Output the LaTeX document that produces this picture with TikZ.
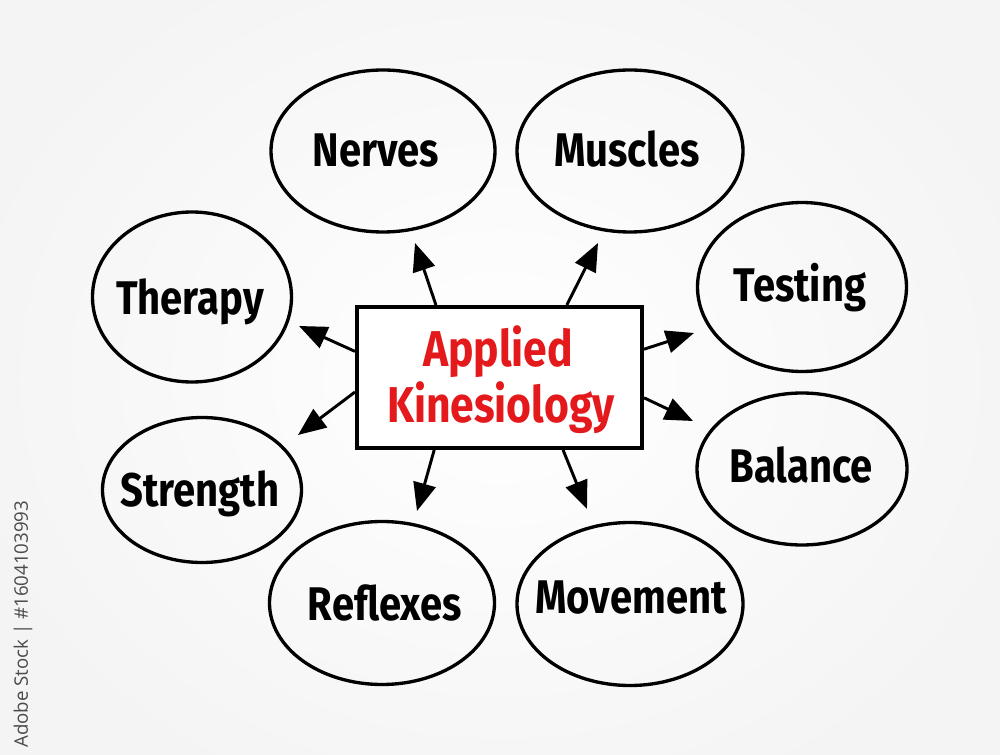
\documentclass[tikz,border=0pt]{standalone}
\usepackage{fontspec}
\setmainfont{Fira Sans}
\newfontfamily\wmfont{Open Sans}
\usetikzlibrary{shapes.geometric,arrows.meta,calc}
\definecolor{kred}{HTML}{E3191C}
\definecolor{wmgray}{HTML}{4A4A4A}
\newcommand{\tall}[1]{\scalebox{1}[1.18]{#1}}
\begin{document}
\begin{tikzpicture}[x=0.75pt,y=-0.75pt,
  bubble/.style={ellipse, draw=black, line width=2.5pt, inner sep=0pt},
  lbl/.style={anchor=base, inner sep=0pt, text=black, font=\fontsize{30}{36}\selectfont\bfseries},
  ttl/.style={anchor=base, inner sep=0pt, text=kred, font=\fontsize{32}{36}\selectfont\bfseries},
  centre/.style={rectangle, draw=black, line width=3pt, fill=white, inner sep=0pt},
  conn/.style={line width=2.2pt, -{Triangle[length=21pt,width=17pt]}},
  wm/.style={rotate=90, anchor=west, inner sep=0pt, text=wmgray, font=\wmfont\fontsize{14}{16}\selectfont}
]
\useasboundingbox (0,0) rectangle (1000,755);
\fill[gray!9] (0,0) rectangle (1000,755);
\shade[inner color=white, outer color=gray!9] (-80,-110) rectangle (1080,865);

% centre box
\node[centre, minimum width=213.75pt, minimum height=105.75pt] (box) at (499.5,377.5) {};
\node[ttl] (t1) at (498,367) {\tall{Applied}};
\node[ttl] (t2) at (501,423) {\tall{Kinesiology}};

% bubbles
\node[bubble, minimum width=168pt,   minimum height=121.5pt]  (nerves)   at (383,151) {};
\node[bubble, minimum width=169.5pt, minimum height=121.5pt]  (muscles)  at (630,151) {};
\node[bubble, minimum width=156.75pt,minimum height=126.75pt] (testing)  at (802,287) {};
\node[bubble, minimum width=157.5pt, minimum height=114pt]    (balance)  at (802,469) {};
\node[bubble, minimum width=149.25pt,minimum height=127.5pt]  (therapy)  at (192,297) {};
\node[bubble, minimum width=149.25pt,minimum height=108.75pt] (strength) at (202,490) {};
\node[bubble, minimum width=168.75pt,minimum height=122.25pt] (reflexes) at (382,603) {};
\node[bubble, minimum width=169.5pt, minimum height=122.25pt] (movement) at (630,604) {};

\node[lbl] (lnerves)   at (376,167) {\tall{Nerves}};
\node[lbl] (lmuscles)  at (627,167) {\tall{Muscles}};
\node[lbl] (ltesting)  at (800,302) {\tall{Testing}};
\node[lbl] (lbalance)  at (801,483) {\tall{Balance}};
\node[lbl] (ltherapy)  at (190,315) {\tall{Therapy}};
\node[lbl] (lstrength) at (200,507) {\tall{Strength}};
\node[lbl] (lreflexes) at (385,620) {\tall{Reflexes}};
\node[lbl] (lmovement) at (631,613) {\tall{Movement}};

% arrow tips (free ends)
\coordinate (tnerves)   at (415,243);
\coordinate (tmuscles)  at (598,243);
\coordinate (ttherapy)  at (299,326);
\coordinate (tstrength) at (298,435);
\coordinate (ttesting)  at (694,333);
\coordinate (tbalance)  at (693,421);
\coordinate (treflexes) at (417,511);
\coordinate (tmovement) at (587,509);

\draw[conn] ($(box.north west)!0.28!(box.north east)$) -- (tnerves);
\draw[conn] ($(box.north west)!0.733!(box.north east)$) -- (tmuscles);
\draw[conn] ($(box.north west)!0.32!(box.south west)$) -- (ttherapy);
\draw[conn] ($(box.north west)!0.60!(box.south west)$) -- (tstrength);
\draw[conn] ($(box.north east)!0.305!(box.south east)$) -- (ttesting);
\draw[conn] ($(box.north east)!0.64!(box.south east)$) -- (tbalance);
\draw[conn] ($(box.south west)!0.274!(box.south east)$) -- (treflexes);
\draw[conn] ($(box.south west)!0.72!(box.south east)$) -- (tmovement);

% vertical stock id
\node[wm] (wmark) at (23,748) {Adobe Stock | \#1604103993};
\end{tikzpicture}
\end{document}
